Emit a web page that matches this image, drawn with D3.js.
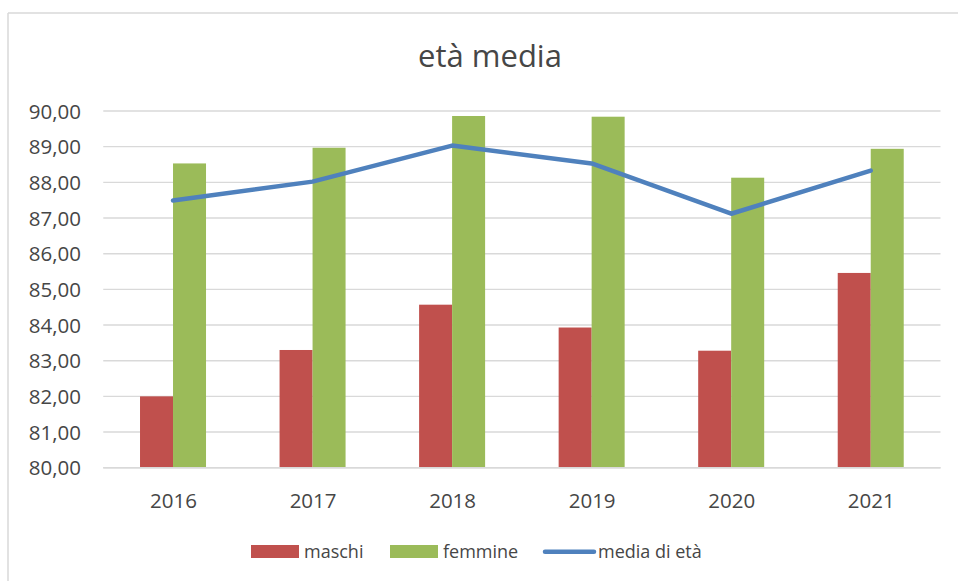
<!DOCTYPE html>
<html>
<head>
<meta charset="utf-8">
<script src="https://cdn.jsdelivr.net/npm/d3@7"></script>
<style>
  html, body { margin: 0; padding: 0; background: #fff; }
  svg { display: block; font-family: "Open Sans", sans-serif; }
</style>
</head>
<body>
<svg id="chart" width="958" height="581"></svg>
<script>
const title = "età media";
const categories = ["2016", "2017", "2018", "2019", "2020", "2021"];
const maschi  = [82.00, 83.30, 84.57, 83.93, 83.28, 85.46];
const femmine = [88.53, 88.97, 89.86, 89.84, 88.13, 88.94];
const media   = [87.49, 88.02, 89.03, 88.53, 87.12, 88.33];
const yTicks  = [80, 81, 82, 83, 84, 85, 86, 87, 88, 89, 90];
const seriesNames = ["maschi", "femmine", "media di età"];

const colors = { maschi: "#c0504d", femmine: "#9bbb59", media: "#4f81bd" };
const textColor = "#464646";
const gridColor = "#d9d9d9";

const svg = d3.select("#chart");

// outer frame (top and left lines)
svg.append("line").attr("x1", 8).attr("x2", 958).attr("y1", 13).attr("y2", 13)
  .attr("stroke", gridColor).attr("stroke-width", 1.5);
svg.append("line").attr("x1", 8).attr("x2", 8).attr("y1", 13).attr("y2", 581)
  .attr("stroke", gridColor).attr("stroke-width", 1.5);

const plot = { left: 103.25, right: 940.5, top: 111, bottom: 467.7 };

const x = d3.scalePoint().domain(categories).range([plot.left, plot.right]).padding(0.5);
const y = d3.scaleLinear().domain([80, 90]).range([plot.bottom, plot.top]);
const step = x.step();
const barW = step * (1 - 0.527) / 2;

// gridlines
svg.append("g").selectAll("line").data(yTicks).join("line")
  .attr("x1", plot.left).attr("x2", plot.right)
  .attr("y1", d => y(d)).attr("y2", d => y(d))
  .attr("stroke", gridColor).attr("stroke-width", 1.4);

// y axis labels
const fmt = d => d3.format(".2f")(d).replace(".", ",");
const yAxis = d3.axisLeft(y).tickValues(yTicks).tickFormat(fmt).tickSize(0).tickPadding(0);
const gy = svg.append("g").attr("transform", `translate(81,0)`).call(yAxis);
gy.select(".domain").remove();
gy.selectAll("text").attr("fill", textColor).style("font-size", "20.5px")
  .style("font-family", "'Open Sans', sans-serif").attr("dy", "0.35em");

// bars
svg.append("g").selectAll("rect").data(categories).join("rect")
  .attr("x", d => x(d) - barW).attr("width", barW)
  .attr("y", (d, i) => y(maschi[i])).attr("height", (d, i) => y(80) - y(maschi[i]))
  .attr("fill", colors.maschi);
svg.append("g").selectAll("rect").data(categories).join("rect")
  .attr("x", d => x(d)).attr("width", barW)
  .attr("y", (d, i) => y(femmine[i])).attr("height", (d, i) => y(80) - y(femmine[i]))
  .attr("fill", colors.femmine);

// baseline axis line
svg.append("line").attr("x1", plot.left).attr("x2", plot.right)
  .attr("y1", plot.bottom).attr("y2", plot.bottom)
  .attr("stroke", gridColor).attr("stroke-width", 1.4);

// line series
const line = d3.line().x((d, i) => x(categories[i])).y(d => y(d));
svg.append("path").datum(media).attr("d", line)
  .attr("fill", "none").attr("stroke", colors.media).attr("stroke-width", 4.5)
  .attr("stroke-linecap", "round").attr("stroke-linejoin", "round");

// x axis labels
const xAxis = d3.axisBottom(x).tickSize(0).tickPadding(0);
const gx = svg.append("g").attr("transform", `translate(0,507.5)`).call(xAxis);
gx.select(".domain").remove();
gx.selectAll("text").attr("fill", textColor).attr("dy", 0).style("font-size", "20.5px")
  .style("font-family", "'Open Sans', sans-serif");

// title
svg.append("text").attr("x", 490).attr("y", 67).attr("text-anchor", "middle")
  .attr("fill", textColor).style("font-size", "31px").text(title);

// legend
const lg = svg.append("g");
lg.append("rect").attr("x", 251).attr("y", 545).attr("width", 48).attr("height", 13).attr("fill", colors.maschi);
lg.append("text").attr("x", 304).attr("y", 557.7).attr("fill", textColor).style("font-size", "18px").text(seriesNames[0]);
lg.append("rect").attr("x", 390).attr("y", 545).attr("width", 48).attr("height", 13).attr("fill", colors.femmine);
lg.append("text").attr("x", 443).attr("y", 557.7).attr("fill", textColor).style("font-size", "18px").text(seriesNames[1]);
lg.append("line").attr("x1", 545).attr("x2", 594).attr("y1", 551.7).attr("y2", 551.7)
  .attr("stroke", colors.media).attr("stroke-width", 4.5).attr("stroke-linecap", "round");
lg.append("text").attr("x", 598).attr("y", 557.7).attr("fill", textColor).style("font-size", "18px").text(seriesNames[2]);
</script>
</body>
</html>
